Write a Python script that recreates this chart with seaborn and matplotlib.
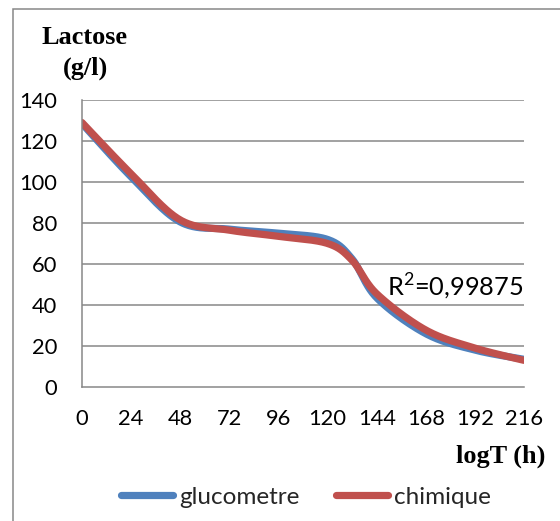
import numpy as np
import pandas as pd
import matplotlib
matplotlib.use("Agg")
import matplotlib.pyplot as plt
from matplotlib.patches import Rectangle
import seaborn as sns

# Sampling times (h) and lactose concentrations (g/l) for both assay methods
temps = [0, 24, 48, 72, 96, 120, 132, 144, 168, 192, 216]
glucometre = [128.5, 102.5, 80.5, 77.0, 75.0, 72.0, 62.5, 43.5, 26.0, 18.0, 13.5]
chimique = [129.0, 104.0, 81.5, 76.5, 73.5, 70.0, 61.8, 45.5, 27.8, 19.0, 13.0]
series_names = ["glucometre", "chimique"]
x_ticks = [0, 24, 48, 72, 96, 120, 144, 168, 192, 216]
y_ticks = [0, 20, 40, 60, 80, 100, 120, 140]
r2_label = r"R$^{\mathregular{2}}$=0,99875"

colors = {"glucometre": "#4F81BD", "chimique": "#C0504D"}
grid_grey = "#878787"
SANS = ["Lato", "DejaVu Sans"]
SERIF = ["Liberation Serif", "DejaVu Serif"]


def smooth_curve(xs, ys, n=40):
    """Bezier smoothing through every point (spreadsheet-style smoothed line)."""
    xs = np.asarray(xs, float)
    ys = np.asarray(ys, float)
    px = np.concatenate([[xs[0]], xs, [xs[-1]]])
    py = np.concatenate([[ys[0]], ys, [ys[-1]]])
    out_x, out_y = [], []
    t = np.linspace(0, 1, n)
    for i in range(1, len(px) - 2):
        p0 = np.array([px[i], py[i]])
        p3 = np.array([px[i + 1], py[i + 1]])
        c1 = p0 + (np.array([px[i + 1], py[i + 1]]) - np.array([px[i - 1], py[i - 1]])) / 6
        c2 = p3 - (np.array([px[i + 2], py[i + 2]]) - np.array([px[i], py[i]])) / 6
        b = ((1 - t) ** 3)[:, None] * p0 + (3 * (1 - t) ** 2 * t)[:, None] * c1 \
            + (3 * (1 - t) * t ** 2)[:, None] * c2 + (t ** 3)[:, None] * p3
        if i > 1:
            b = b[1:]
        out_x.extend(b[:, 0])
        out_y.extend(b[:, 1])
    return out_x, out_y


def size_for_width(fig, text, width_px, **kw):
    """Font size (pt) at which `text` spans `width_px` pixels."""
    probe = fig.text(0, 0, text, fontsize=20, **kw)
    w = probe.get_window_extent(fig.canvas.get_renderer()).width
    probe.remove()
    return 20 * width_px / w


frames = []
for name, vals in zip(series_names, [glucometre, chimique]):
    sx, sy = smooth_curve(temps, vals)
    frames.append(pd.DataFrame({"t": sx, "lactose": sy, "serie": name}))
df = pd.concat(frames, ignore_index=True)

sns.set_style("white")
plt.rcParams["font.family"] = SANS
plt.rcParams["mathtext.fontset"] = "custom"
plt.rcParams["mathtext.rm"] = "Lato"

W, H = 560, 521
fig = plt.figure(figsize=(W / 100, H / 100), dpi=100)
ax = fig.add_axes([82 / W, (H - 387) / H, (524 - 82) / W, (387 - 100) / H])

tick_fs = size_for_width(fig, "216", 38, family=SANS)
legend_fs = size_for_width(fig, "chimique", 97, family=SANS)
r2_fs = size_for_width(fig, r2_label, 136, family=SANS)
title_fs = size_for_width(fig, "Lactose", 86, family=SERIF, fontweight="bold")
px = 72 / 100  # points per pixel

sns.lineplot(data=df, x="t", y="lactose", hue="serie", hue_order=series_names,
             palette=colors, linewidth=5.2, sort=False, estimator=None,
             ax=ax, legend=False, solid_capstyle="round")

ax.set_xlim(0, 216)
ax.set_ylim(0, 140)
ax.set_xticks(x_ticks)
ax.set_yticks(y_ticks)
ax.set_xticklabels([str(v) for v in x_ticks])
ax.set_yticklabels([str(v) for v in y_ticks])
ax.set_xlabel("")
ax.set_ylabel("")

for y in y_ticks[1:]:
    ax.axhline(y, color=grid_grey, linewidth=1.1, zorder=0)
for side in ["top", "right"]:
    ax.spines[side].set_visible(False)
for side in ["left", "bottom"]:
    ax.spines[side].set_color(grid_grey)
    ax.spines[side].set_linewidth(1.1)
ax.spines["left"].set_bounds(0, 140)

ax.tick_params(axis="both", which="major", labelsize=tick_fs, colors=grid_grey,
               labelcolor="black", width=1.1)
ax.tick_params(axis="y", length=9 * px, pad=16 * px)
ax.tick_params(axis="x", length=8 * px, pad=14 * px)

ax.text(149, 48.8, r2_label, fontsize=r2_fs, ha="left", va="center", color="black")

serif_bold = dict(family=SERIF, fontweight="bold", color="black")
fig.text(85 / W, 1 - 38 / H, "Lactose", ha="center", va="center",
         fontsize=title_fs, **serif_bold)
fig.text(85 / W, 1 - 68 / H, "(g/l)", ha="center", va="center",
         fontsize=title_fs, **serif_bold)
fig.text(545 / W, 1 - 456 / H, "logT (h)", ha="right", va="center",
         fontsize=title_fs, **serif_bold)

handles = [plt.Line2D([], [], color=colors[n], linewidth=5.2, solid_capstyle="round")
           for n in series_names]
lfs_px = legend_fs / px
fig.legend(handles, series_names, loc="center", bbox_to_anchor=(306 / W, 1 - 497 / H),
           ncol=2, frameon=False, fontsize=legend_fs, handlelength=52 / lfs_px,
           handletextpad=6 / lfs_px, columnspacing=36 / lfs_px, borderpad=0)

# chart area border
fig.patches.append(Rectangle((13 / W, -0.1), 1.2, 1 - 9 / H + 0.1,
                             transform=fig.transFigure, fill=False,
                             edgecolor=grid_grey, linewidth=1.1))

fig.savefig("out.png", dpi=100)
